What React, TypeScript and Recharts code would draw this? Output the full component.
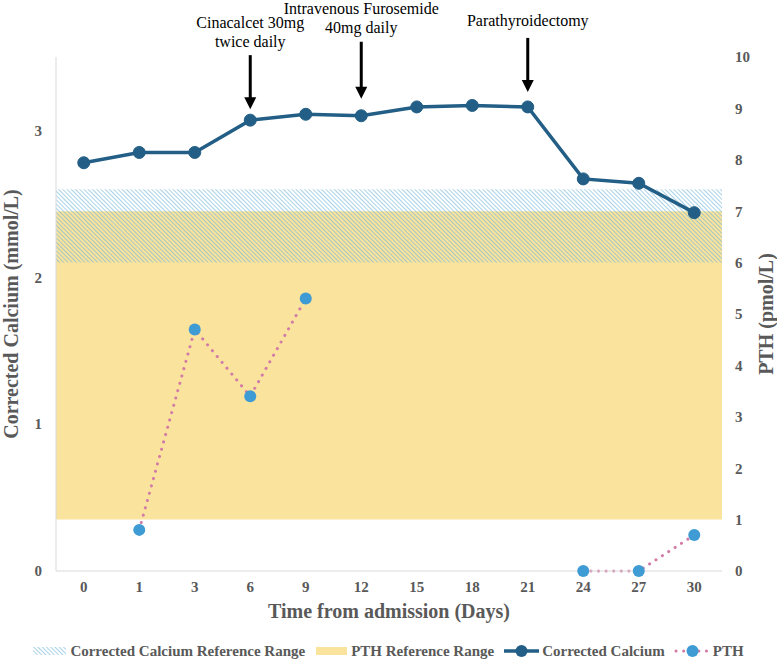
import { ComposedChart, Line, XAxis, YAxis, ReferenceArea, ReferenceDot, Legend } from 'recharts';

const days = ['0', '1', '3', '6', '9', '12', '15', '18', '21', '24', '27', '30'];
const calcium = [2.78, 2.85, 2.85, 3.07, 3.11, 3.1, 3.16, 3.17, 3.16, 2.67, 2.64, 2.44];
const pth = [null, 0.8, 4.7, 3.4, 5.3, null, null, null, null, 0, 0, 0.7];

const calciumRange = [2.1, 2.6];
const pthRange = [1, 7];

const leftTicks = [0, 1, 2, 3];
const rightTicks = [0, 1, 2, 3, 4, 5, 6, 7, 8, 9, 10];

const eventDays = ['6', '12', '21'];
const eventLabels = [['Cinacalcet 30mg', 'twice daily'], ['Intravenous Furosemide', '40mg daily'], ['Parathyroidectomy']];

const FONT = '"Liberation Serif", "Times New Roman", serif';
const GREY = '#595959';
const CA_COLOR = '#225e85';
const PTH_DOT = '#3e9bd3';
const PTH_LINE = '#d27ba6';
const YELLOW = '#f9e39d';

// arrow layout per event (px): gap above the point, arrow length, caption gap
const arrowStyle = [
    { gap: 11, len: 54, caption: 8 },
    { gap: 17, len: 57, caption: 9 },
    { gap: 15, len: 54, caption: 12 },
];

const data = days.map((d, i) => ({ day: d, calcium: calcium[i], pth: pth[i] }));

const tickStyle = { fill: GREY, fontSize: 15, fontWeight: 'bold', fontFamily: FONT };

// arrow + caption drawn above the calcium point of each event
const EventArrow = ({ cx, cy, lines, look }: any) => {
    const tip = cy - look.gap;
    const top = tip - look.len;
    return (
        <g>
            <line x1={cx} x2={cx} y1={top} y2={tip - 10} stroke="#000" strokeWidth={3} />
            <polygon points={`${cx - 6},${tip - 12} ${cx + 6},${tip - 12} ${cx},${tip}`} fill="#000" />
            <text textAnchor="middle" fontFamily={FONT} style={{ fontFamily: FONT, fontSize: 16 }} fill="#000">
                {lines.map((t: string, i: number) => (
                    <tspan key={i} x={cx} y={top - look.caption - (lines.length - 1 - i) * 19}>{t}</tspan>
                ))}
            </text>
        </g>
    );
};

const LeftTitle = ({ viewBox }: any) => {
    const x = viewBox.x + 11;
    const y = viewBox.y + viewBox.height / 2;
    return (
        <text x={x} y={y} transform={`rotate(-90 ${x} ${y})`} textAnchor="middle" dominantBaseline="central"
            style={{ fontFamily: FONT, fontSize: 20, fontWeight: 'bold' }} fill={GREY}>
            Corrected Calcium (mmol/L)
        </text>
    );
};

const RightTitle = ({ viewBox }: any) => {
    const x = viewBox.x + 44;
    const y = viewBox.y + viewBox.height / 2;
    return (
        <text x={x} y={y} transform={`rotate(-90 ${x} ${y})`} textAnchor="middle" dominantBaseline="central"
            style={{ fontFamily: FONT, fontSize: 20, fontWeight: 'bold' }} fill={GREY}>
            PTH (pmol/L)
        </text>
    );
};

const LegendContent = () => (
    <div style={{
        display: 'flex', justifyContent: 'center', alignItems: 'center', height: 22,
        fontFamily: FONT, fontSize: 15, fontWeight: 'bold', color: GREY, whiteSpace: 'nowrap'
    }}>
        <svg width={33} height={8}><rect width={33} height={8} fill="url(#caHatch)" /></svg>
        <span style={{ marginLeft: 4, marginRight: 11 }}>Corrected Calcium Reference Range</span>
        <svg width={31} height={8}><rect width={31} height={8} fill={YELLOW} /></svg>
        <span style={{ marginLeft: 4, marginRight: 9 }}>PTH Reference Range</span>
        <svg width={37} height={14}>
            <line x1={1} x2={36} y1={7} y2={7} stroke={CA_COLOR} strokeWidth={3.5} />
            <circle cx={18.5} cy={7} r={6} fill={CA_COLOR} />
        </svg>
        <span style={{ marginLeft: 2, marginRight: 9 }}>Corrected Calcium</span>
        <svg width={37} height={14}>
            <line x1={2} x2={36} y1={7} y2={7} stroke={PTH_LINE} strokeWidth={3} strokeDasharray="0.1 7.5" strokeLinecap="round" />
            <circle cx={18.5} cy={7} r={6} fill={PTH_DOT} />
        </svg>
        <span style={{ marginLeft: 2 }}>PTH</span>
    </div>
);

export default function App() {
    return (
        <div style={{ position: 'absolute', left: 0, top: 0, width: 777, height: 660, background: '#fff' }}>
            <svg width={0} height={0} style={{ position: 'absolute' }}>
                <defs>
                    <pattern id="caHatch" patternUnits="userSpaceOnUse" width={3} height={3} patternTransform="rotate(-45)">
                        <line x1={0} y1={0} x2={0} y2={3} stroke="#6fb4d8" strokeWidth={1.2} />
                    </pattern>
                </defs>
            </svg>
            <ComposedChart width={777} height={660} data={data} margin={{ top: 57, right: 0, bottom: 17, left: 0 }}>
                <XAxis
                    dataKey="day"
                    scale="band"
                    interval={0}
                    axisLine={{ stroke: '#d9d9d9' }}
                    tickLine={false}
                    tick={tickStyle}
                    tickMargin={4}
                    height={50}
                    label={{ value: 'Time from admission (Days)', position: 'insideBottom', offset: 3, fill: GREY, fontSize: 20, fontWeight: 'bold', fontFamily: FONT }}
                />
                <YAxis
                    yAxisId="left"
                    domain={[0, 3.5]}
                    ticks={leftTicks}
                    width={56}
                    axisLine={{ stroke: '#d9d9d9' }}
                    tickLine={false}
                    tickMargin={8}
                    tick={tickStyle}
                    label={<LeftTitle />}
                />
                <YAxis
                    yAxisId="right"
                    orientation="right"
                    domain={[0, 10]}
                    ticks={rightTicks}
                    width={55}
                    axisLine={false}
                    tickLine={false}
                    tickMargin={7}
                    tick={tickStyle}
                    label={<RightTitle />}
                />
                <ReferenceArea yAxisId="right" y1={pthRange[0]} y2={pthRange[1]} fill={YELLOW} fillOpacity={1} stroke="none" />
                <ReferenceArea yAxisId="left" y1={calciumRange[0]} y2={calciumRange[1]} fill="url(#caHatch)" fillOpacity={1} stroke="none" />
                <Line
                    yAxisId="left"
                    dataKey="calcium"
                    name="Corrected Calcium"
                    stroke={CA_COLOR}
                    strokeWidth={3.5}
                    dot={{ r: 6, fill: CA_COLOR, stroke: CA_COLOR, strokeWidth: 1 }}
                    activeDot={false}
                    isAnimationActive={false}
                />
                <Line
                    yAxisId="right"
                    dataKey="pth"
                    name="PTH"
                    stroke={PTH_LINE}
                    strokeWidth={3}
                    strokeDasharray="0.1 7.5"
                    strokeLinecap="round"
                    dot={{ r: 6, fill: PTH_DOT, stroke: 'none', strokeDasharray: 'none' }}
                    activeDot={false}
                    isAnimationActive={false}
                />
                {eventDays.map((d, i) => (
                    <ReferenceDot
                        key={d}
                        yAxisId="left"
                        x={d}
                        y={calcium[days.indexOf(d)]}
                        ifOverflow="visible"
                        shape={(p: any) => <EventArrow {...p} lines={eventLabels[i]} look={arrowStyle[i]} />}
                    />
                ))}
                <Legend verticalAlign="bottom" content={<LegendContent />} wrapperStyle={{ top: 640, left: 0, width: 777 }} />
            </ComposedChart>
        </div>
    );
}
